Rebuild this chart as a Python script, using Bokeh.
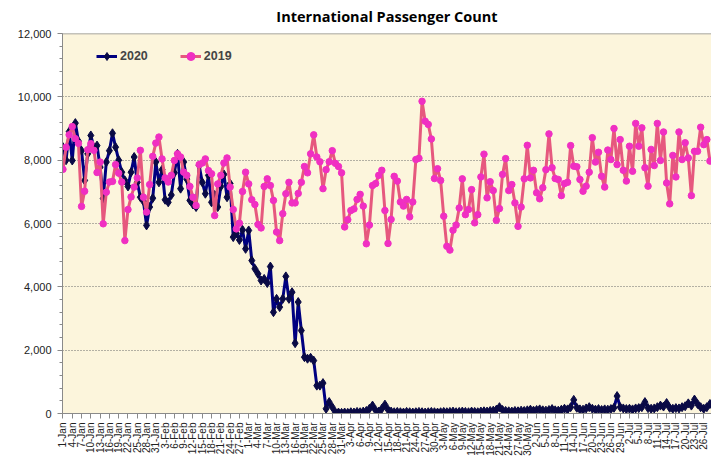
import math
from bokeh.plotting import figure
from bokeh.models import (FixedTicker, NumeralTickFormatter, Legend, LegendItem,
                          Range1d, ColumnDataSource, Span)
from bokeh.embed import file_html
from bokeh.resources import INLINE

# ---------------- data ----------------
tick_labels = [
    "1-Jan", "4-Jan", "7-Jan", "10-Jan", "13-Jan", "16-Jan", "19-Jan", "22-Jan", "25-Jan", "28-Jan", "31-Jan",
    "3-Feb", "6-Feb", "9-Feb", "12-Feb", "15-Feb", "18-Feb", "21-Feb", "24-Feb", "27-Feb",
    "1-Mar", "4-Mar", "7-Mar", "10-Mar", "13-Mar", "16-Mar", "19-Mar", "22-Mar", "25-Mar", "28-Mar", "31-Mar",
    "3-Apr", "6-Apr", "9-Apr", "12-Apr", "15-Apr", "18-Apr", "21-Apr", "24-Apr", "27-Apr", "30-Apr",
    "3-May", "6-May", "9-May", "12-May", "15-May", "18-May", "21-May", "24-May", "27-May", "30-May",
    "2-Jun", "5-Jun", "8-Jun", "11-Jun", "14-Jun", "17-Jun", "20-Jun", "23-Jun", "26-Jun", "29-Jun",
    "2-Jul", "5-Jul", "8-Jul", "11-Jul", "14-Jul", "17-Jul", "20-Jul", "23-Jul", "26-Jul", "29-Jul",
]

pax_2019 = [
    7710, 8410, 8800, 9060, 8680, 8530, 6540, 7020, 8330, 8520,
    8310, 7610, 7940, 5990, 6990, 7310, 7330, 7860, 7590, 7310,
    5460, 6440, 6840, 7150, 7440, 8310, 6830, 6360, 7230, 8120,
    8540, 8730, 8040, 7440, 7310, 7520, 7990, 8200, 8100, 7620,
    7520, 7170, 6830, 6570, 7860, 7910, 8040, 7670, 7570, 6250,
    7250, 7520, 7910, 8070, 7150, 6440, 5830, 6010, 7010, 7620,
    7250, 6750, 6600, 5970, 5860, 7170, 7410, 7200, 6730, 5730,
    5460, 6310, 6940, 7300, 6650, 6650, 6950, 7300, 7800, 7600,
    8200, 8800, 8100, 7950, 7100, 7700, 7950, 8300, 7900, 7800,
    7600, 5890, 6120, 6410, 6460, 6760, 6920, 6550, 5360, 5950,
    7200, 7260, 7520, 7680, 6410, 5370, 6130, 7490, 7340, 6680,
    6550, 6760, 6210, 6680, 8020, 8060, 9860, 9230, 9130, 8670,
    7420, 7730, 7360, 6230, 5280, 5160, 5790, 5950, 6490, 7410,
    6280, 6440, 7070, 6020, 6280, 7470, 8190, 6810, 7320, 7040,
    6100, 6470, 7550, 8050, 7040, 7230, 6650, 5910, 6520, 7410,
    8470, 7440, 7680, 6970, 6780, 7130, 7700, 8830, 7760, 7420,
    7390, 6880, 7260, 7300, 8460, 7810, 7790, 7390, 7020, 7180,
    7620, 8710, 7940, 8250, 7490, 7150, 8320, 8020, 9000, 7860,
    8650, 7680, 7340, 8440, 7650, 9160, 8440, 9020, 7760, 7180,
    8340, 7830, 9160, 7990, 8890, 7280, 6620, 8150, 7470, 8890,
    8020, 8550, 8070, 6880, 8280, 8280, 9040, 8490, 8650, 7970,
]

pax_2020 = [
    8410, 8000, 8900, 7990, 9170, 8600, 8300, 7360, 8200, 8780,
    8400, 8460, 7780, 6790, 7940, 8300, 8850, 8410, 8000, 7620,
    7360, 7170, 7620, 8100, 7300, 6830, 6700, 5940, 6520, 6800,
    7940, 7300, 7700, 6750, 6670, 6900, 7600, 8200, 7100, 7940,
    7400, 6730, 6600, 6520, 7830, 7300, 6940, 7520, 6670, 6900,
    6520, 7170, 7550, 6830, 7260, 5570, 5690, 5480, 5800, 5200,
    5780, 4830, 4570, 4410, 4200, 4250, 4120, 4640, 3200, 3620,
    3360, 3620, 4330, 3620, 3830, 2220, 3520, 2620, 1780, 1730,
    1760, 1670, 880, 880, 960, 150, 360, 200, 40, 30,
    20, 30, 20, 40, 30, 50, 40, 60, 80, 150,
    250, 100, 60, 150, 280, 120, 60, 40, 50, 40,
    30, 50, 40, 30, 40, 50, 40, 30, 40, 50,
    40, 30, 40, 50, 40, 50, 60, 40, 50, 60,
    50, 40, 60, 50, 40, 60, 70, 60, 80, 90,
    120, 200, 110, 80, 70, 60, 80, 70, 90, 80,
    100, 120, 90, 110, 130, 100, 90, 110, 140, 100,
    90, 120, 150, 130, 200, 430, 180, 130, 120, 160,
    200, 150, 120, 140, 110, 130, 120, 140, 180, 550,
    200, 160, 140, 150, 130, 160, 170, 200, 360, 170,
    150, 160, 200, 250, 220, 330, 180, 150, 170, 160,
    200, 230, 320, 250, 440, 300, 200, 150, 200, 300,
]

y_ticks = [0, 2000, 4000, 6000, 8000, 10000, 12000]

days = list(range(len(pax_2019)))
src = ColumnDataSource(dict(day=days, y19=pax_2019, y20=pax_2020))

# ---------------- figure ----------------
p = figure(width=711, height=459, output_backend="svg", toolbar_location=None,
           x_range=Range1d(-0.15, 209.5), y_range=Range1d(0, 12000),
           min_border_left=57, min_border_right=0, min_border_top=33, min_border_bottom=46,
           background_fill_color="#FCF5DC", border_fill_color="white",
           outline_line_color=None)

p.title.text = "International Passenger Count"
p.title.align = "center"
p.title.text_font = "Open Sans"
p.title.text_font_style = "bold"
p.title.text_font_size = "14.5px"
p.title.text_color = "#000000"
p.title.standoff = 11
p.title.vertical_align = "top"

# top border of plot area
p.add_layout(Span(location=12000, dimension="width", line_color="#8a8a8a", line_width=1.5))

# series: 2020 first, 2019 on top
l20 = p.line("day", "y20", source=src, line_color="#000080", line_width=3)
s20 = p.scatter("day", "y20", source=src, marker="diamond", size=9,
                fill_color="#0a0a45", line_color="#0a0a45")
l19 = p.line("day", "y19", source=src, line_color="#E6587E", line_width=3)
s19 = p.scatter("day", "y19", source=src, marker="circle", size=6.5,
                fill_color="#F02FC2", line_color="#F02FC2")

# axes
xt = [3 * i for i in range(len(tick_labels))]
p.xaxis.ticker = FixedTicker(ticks=xt, minor_ticks=[])
p.xaxis.major_label_overrides = {t: lab for t, lab in zip(xt, tick_labels)}
p.xaxis.major_label_orientation = math.pi / 2
p.xaxis.major_label_text_font = "Liberation Sans"
p.xaxis.major_label_text_font_size = "10px"
p.xaxis.major_label_text_color = "#222222"
p.xaxis.major_label_standoff = 4

minor = [v for v in range(0, 12001, 400)]
p.yaxis.ticker = FixedTicker(ticks=y_ticks, minor_ticks=minor)
p.yaxis.formatter = NumeralTickFormatter(format="0,0")
p.yaxis.major_label_text_font = "Liberation Sans"
p.yaxis.major_label_text_font_size = "11px"
p.yaxis.major_label_text_color = "#222222"
p.yaxis.major_label_standoff = 6
# invisible axis label reserves the white strip left of the tick labels
p.yaxis.axis_label = "x"
p.yaxis.axis_label_text_alpha = 0
p.yaxis.axis_label_text_font_size = "10px"
p.yaxis.axis_label_standoff = 0

for ax in (p.xaxis[0], p.yaxis[0]):
    ax.axis_line_color = "#8a8a8a"
    ax.major_tick_line_color = "#8a8a8a"
    ax.minor_tick_line_color = "#8a8a8a"
    ax.major_tick_in = 0
    ax.major_tick_out = 5
    ax.minor_tick_in = 0
    ax.minor_tick_out = 3

p.xgrid.grid_line_color = None
p.ygrid.grid_line_color = "#6a6a6a"
p.ygrid.grid_line_dash = "1 2"
p.ygrid.grid_line_width = 1

legend = Legend(items=[LegendItem(label="2020", renderers=[l20, s20]),
                       LegendItem(label="2019", renderers=[l19, s19])],
                orientation="horizontal", location=(24, 337), spacing=32,
                padding=10, margin=0, background_fill_alpha=0, border_line_alpha=0,
                label_text_font="Liberation Sans", label_text_font_style="bold",
                label_text_font_size="12.5px", glyph_width=21, label_standoff=3)
p.add_layout(legend)

open("out.html", "w").write(file_html(p, INLINE))
